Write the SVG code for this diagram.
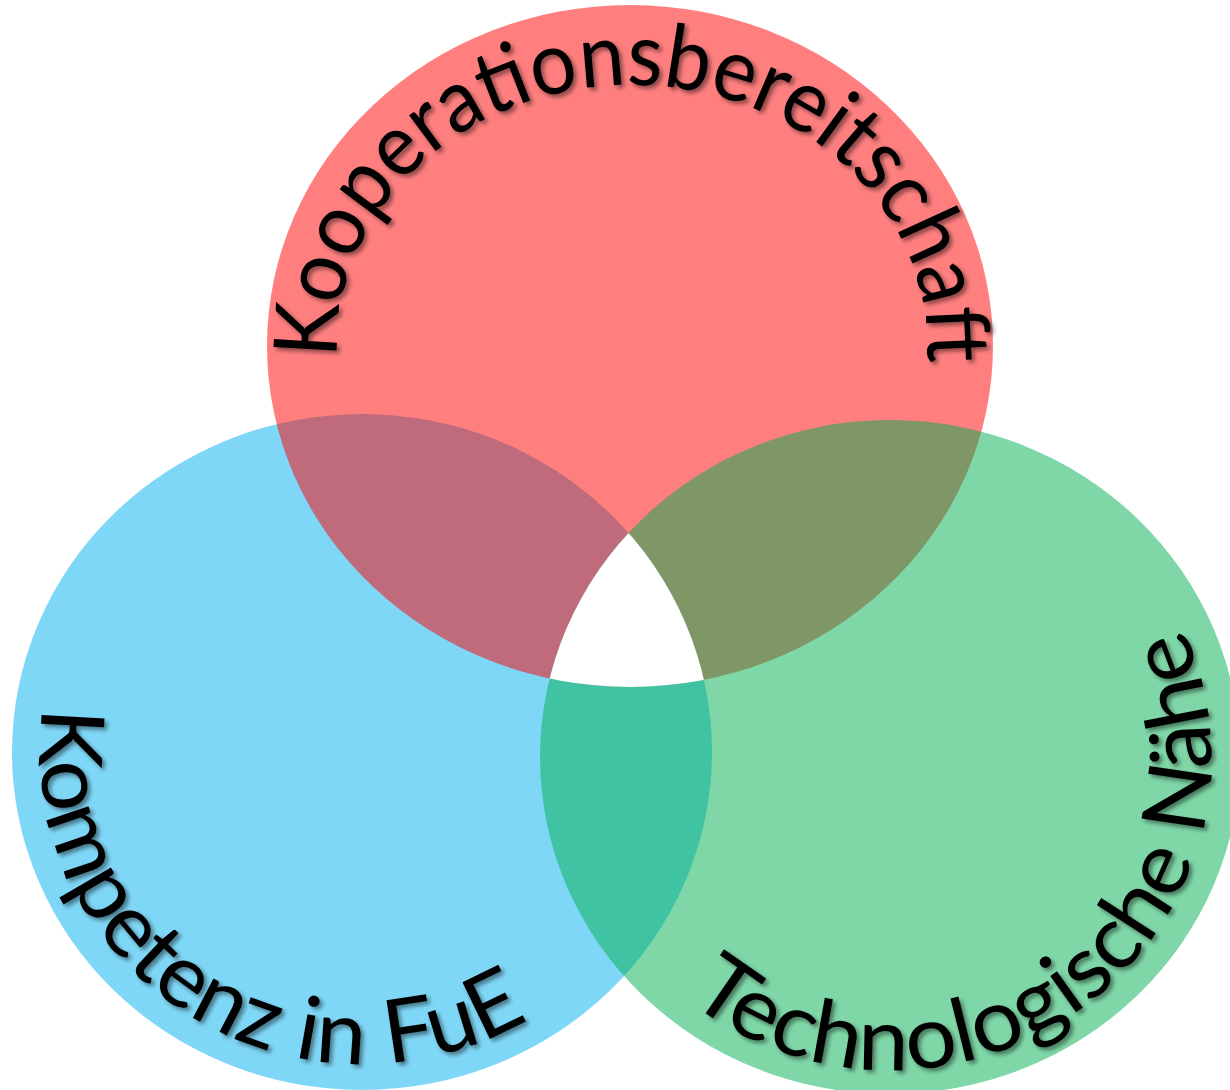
<svg xmlns="http://www.w3.org/2000/svg" width="1230" height="1090" viewBox="0 0 1230 1090">
<defs>
<style>
.lbl { font-family: Lato, "Open Sans", "Liberation Sans", sans-serif; font-size: 88px; fill: #000000; }
.set { fill-opacity: 0.5; stroke: none; }
</style>
<filter id="shadow" filterUnits="userSpaceOnUse" x="0" y="0" width="1230" height="1090">
<feDropShadow dx="3" dy="3" stdDeviation="2" flood-color="#000000" flood-opacity="0.45"/>
</filter>
<clipPath id="clipRed"><ellipse cx="630" cy="346" rx="363" ry="341"/></clipPath>
<clipPath id="clipBlue"><ellipse cx="362" cy="752" rx="350" ry="338"/></clipPath>
<path id="pathRed" d="M 337.3 358 A 295 261 0 1 1 922.5 391.3"/>
<path id="pathBlue" d="M 43.4 706.9 A 322 312 0 0 0 589.7 972.6"/>
<path id="pathGreen" d="M 687.5 999.9 A 321 313 0 0 0 1153 577.5"/>
</defs>
<rect x="0" y="0" width="1230" height="1090" fill="#FFFFFF"/>
<g id="node-kompetenz">
<ellipse class="set" cx="362" cy="752" rx="350" ry="338" fill="#00B0F0"/>
</g>
<g id="node-kooperation">
<ellipse class="set" cx="630" cy="346" rx="363" ry="341" fill="#FF0000"/>
</g>
<g id="node-technologie">
<ellipse class="set" cx="890" cy="757" rx="350" ry="337" fill="#00B050"/>
</g>
<g id="node-center" clip-path="url(#clipRed)">
<g clip-path="url(#clipBlue)">
<ellipse cx="890" cy="757" rx="350" ry="337" fill="#FFFFFF"/>
</g>
</g>
<g id="labels" filter="url(#shadow)">
<text class="lbl"><textPath href="#pathRed" textLength="903" lengthAdjust="spacingAndGlyphs">Kooperationsbereitschaft</textPath></text>
<text class="lbl"><textPath href="#pathBlue" textLength="718" lengthAdjust="spacingAndGlyphs">Kompetenz in FuE</textPath></text>
<text class="lbl"><textPath href="#pathGreen" textLength="850" lengthAdjust="spacingAndGlyphs">Technologische Nähe</textPath></text>
</g>
</svg>
